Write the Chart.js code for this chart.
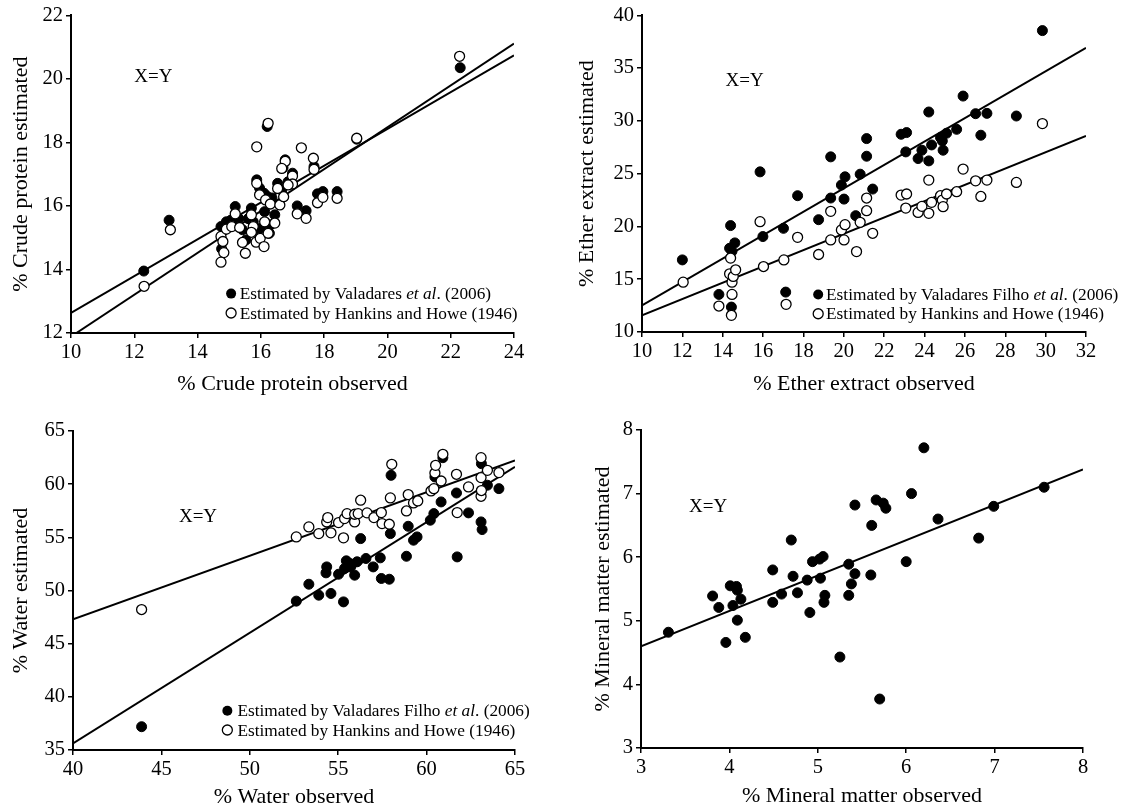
<!DOCTYPE html>
<html><head><meta charset="utf-8">
<script src="https://cdn.jsdelivr.net/npm/chart.js@4.4.1/dist/chart.umd.min.js"></script>
<style>
html,body{margin:0;padding:0;background:#fff;}
#wrap{position:relative;width:1127px;height:810px;overflow:hidden;background:#fff;}
.p{position:absolute;}
</style></head><body>
<div id="wrap">
<div class="p" style="left:0;top:0;width:563px;height:405px"><canvas id="c1"></canvas></div>
<div class="p" style="left:563px;top:0;width:564px;height:405px"><canvas id="c2"></canvas></div>
<div class="p" style="left:0;top:405px;width:563px;height:405px"><canvas id="c3"></canvas></div>
<div class="p" style="left:563px;top:405px;width:564px;height:405px"><canvas id="c4"></canvas></div>
</div>
<script>
// ---------- Panel 1: crude protein ----------
const p1ValX = [12.3,13.1,22.3,16.2,14.74,14.76,14.91,15.05,15.19,15.3,15.42,15.53,15.7,15.76,15.87,15.96,16.1,16.12,16.2,16.27,16.3,16.44,16.53,16.66,16.77,16.86,17.0,17.15,17.43,17.68,17.79,17.96,18.41,19.03,15.87,16.0,16.35,16.7,15.6];
const p1ValY = [13.95,15.55,20.35,18.5,15.35,14.65,15.5,15.55,15.98,15.6,15.25,14.93,15.93,15.5,16.82,16.56,16.4,15.82,16.3,15.14,15.4,15.72,16.71,16.5,17.45,16.76,17.03,16.0,15.85,17.24,16.38,16.45,16.45,18.1,15.2,15.3,16.25,17.2,15.6];
const p1HhX = [12.31,13.14,22.28,16.23,15.87,17.28,17.66,17.68,16.77,16.66,17.0,17.0,16.86,16.53,15.87,15.96,16.15,16.3,16.6,16.72,17.79,17.96,18.41,17.15,17.43,19.03,15.19,15.7,15.76,14.74,14.8,14.83,14.74,14.91,15.08,15.33,15.42,15.51,15.7,15.85,15.98,16.1,16.12,16.23,16.44];
const p1HhY = [13.47,15.25,20.71,18.6,17.86,17.83,17.5,17.15,17.4,17.18,16.94,16.69,16.66,16.55,16.71,16.35,16.19,16.06,16.03,16.29,16.1,16.27,16.24,15.75,15.61,18.13,15.75,15.72,15.35,15.04,14.88,14.53,14.23,15.27,15.35,15.32,14.85,14.51,15.17,14.86,14.98,14.72,15.5,15.14,15.46];
const p1ValLineX = [10, 24], p1ValLineY = [12.63, 20.74];
const p1HhLineX = [10.17, 24], p1HhLineY = [12.0, 21.11];

// ---------- Panel 2: ether extract ----------
const p2ValX = [12.0,13.81,14.34,14.39,14.46,14.6,14.43,15.85,15.99,17.01,17.12,17.71,18.75,19.35,19.35,19.88,20.06,20.01,20.59,20.81,21.13,21.13,21.43,22.84,23.11,23.07,23.68,23.87,24.21,24.21,24.35,24.79,24.88,24.92,25.09,25.59,25.91,26.53,26.79,27.09,28.55,29.84];
const p2ValY = [16.83,13.56,17.93,20.08,17.65,18.44,12.36,25.17,19.04,19.82,13.78,22.91,20.64,26.59,22.69,23.92,24.7,22.59,21.02,24.95,28.32,26.65,23.54,28.73,28.89,27.06,26.43,27.22,30.84,26.21,27.72,28.42,28.1,27.22,28.83,29.2,32.35,30.68,28.64,30.71,30.46,38.55];
const p2HhX = [12.04,13.81,14.34,14.39,14.46,14.46,14.43,14.52,14.64,15.85,16.02,17.03,17.14,17.71,18.75,19.35,19.35,19.88,20.06,20.01,20.63,20.81,21.13,21.13,21.43,22.84,23.11,23.07,23.68,23.87,24.21,24.21,24.35,24.79,24.88,24.92,25.09,25.59,25.91,26.53,26.79,27.09,28.55,29.84];
const p2HhY = [14.72,12.46,15.51,17.0,14.72,13.56,11.58,15.26,15.89,20.45,16.2,16.83,12.62,18.97,17.34,21.43,18.72,19.67,20.17,18.72,17.62,20.39,22.69,21.49,19.35,22.97,23.07,21.74,21.33,21.9,24.39,21.24,22.28,22.91,22.5,21.87,23.07,23.29,25.43,24.32,22.84,24.39,24.17,29.74];
const p2ValLineX = [10, 32], p2ValLineY = [12.52, 36.92];
const p2HhLineX = [10, 32], p2HhLineY = [11.58, 28.57];

// ---------- Panel 3: water ----------
const p3ValX = [43.88,52.63,53.34,53.9,54.35,54.31,54.59,55.02,55.3,55.36,55.46,55.66,55.93,56.07,56.27,56.57,56.98,57.38,57.44,57.89,57.95,57.99,58.86,58.96,59.26,59.46,60.21,60.41,60.47,60.82,60.92,61.69,61.73,62.37,63.08,63.14,63.1,63.44,64.09,55.7];
const p3ValY = [37.19,49.0,50.59,49.56,52.22,51.66,49.72,51.53,48.93,52.07,52.79,52.54,51.44,52.7,54.88,53.01,52.22,53.07,51.13,51.06,55.35,60.83,53.22,56.04,54.73,55.04,56.61,57.23,60.68,58.33,62.49,59.17,53.16,57.3,56.45,55.73,61.93,59.9,59.58,52.2];
const p3HhX = [43.88,52.63,53.34,53.9,54.35,54.41,54.59,55.02,55.3,55.36,55.5,55.93,55.93,56.13,56.27,56.63,57.02,57.44,57.48,57.89,57.95,58.03,58.86,58.96,59.26,59.5,60.25,60.41,60.47,60.51,60.82,60.92,61.69,61.73,62.37,63.08,63.08,63.08,63.1,63.44,64.09];
const p3HhY = [48.21,55.04,55.98,55.35,56.45,56.86,55.42,56.39,54.95,56.76,57.23,56.45,57.17,57.23,58.49,57.3,56.86,57.33,56.29,56.23,58.71,61.87,57.48,59.02,58.24,58.42,59.36,59.58,61.05,61.77,60.3,62.81,60.93,57.33,59.74,62.49,60.62,58.86,59.4,61.3,61.09];
const p3ValLineX = [40, 65], p3ValLineY = [35.62, 61.62];
const p3HhLineX = [40, 65], p3HhLineY = [47.3, 62.24];

// ---------- Panel 4: mineral matter ----------
const p4X = [3.31,3.81,3.88,3.96,4.01,4.04,4.08,4.09,4.09,4.13,4.18,4.49,4.49,4.59,4.7,4.72,4.77,4.88,4.91,4.94,5.02,5.03,5.06,5.07,5.08,5.25,5.35,5.35,5.38,5.42,5.42,5.6,5.61,5.66,5.7,5.74,5.77,6.0,6.06,6.2,6.36,6.82,6.99,7.56];
const p4Y = [4.82,5.39,5.21,4.66,5.55,5.24,5.54,5.48,5.01,5.34,4.74,5.29,5.8,5.42,6.27,5.7,5.44,5.64,5.13,5.93,5.97,5.67,6.01,5.29,5.4,4.43,5.89,5.4,5.58,5.74,6.82,5.72,6.5,6.9,3.77,6.85,6.77,5.93,7.0,7.72,6.6,6.3,6.8,7.1];
const p4LineX = [3, 8], p4LineY = [4.6, 7.38];

// ---------- Labels ----------
const legendVal1 = [['Estimated by Valadares ', false], ['et al', true], ['. (2006)', false]];
const legendVal2 = [['Estimated by Valadares Filho ', false], ['et al', true], ['. (2006)', false]];
const legendHh = [['Estimated by Hankins and Howe (1946)', false]];

const FONT = 'Liberation Serif';
const TICK_SIZE = 20.5, TITLE_SIZE = 22, LEGEND_SIZE = 17.3, XY_SIZE = 19;
Chart.defaults.font.family = FONT;
Chart.defaults.color = '#000';

function pts(xs, ys) { return xs.map((x, i) => ({x: x, y: ys[i]})); }

const overlay = {
  id: 'overlay',
  afterDatasetsDraw(chart, args, o) {
    const ctx = chart.ctx, sx = chart.scales.x, sy = chart.scales.y;
    ctx.save();
    ctx.fillStyle = '#000';
    ctx.textBaseline = 'middle';
    if (o.xy) {
      ctx.font = XY_SIZE + 'px "' + FONT + '"';
      ctx.textAlign = 'center';
      ctx.fillText('X=Y', sx.getPixelForValue(o.xy[0]), sy.getPixelForValue(o.xy[1]));
    }
    if (o.legend) {
      const L = o.legend;
      L.rows.forEach((row, i) => {
        const py = sy.getPixelForValue(L.y[i]);
        const mx = sx.getPixelForValue(L.mx);
        ctx.beginPath();
        ctx.arc(mx, py, 5, 0, Math.PI * 2);
        if (row.filled) { ctx.fillStyle = '#000'; ctx.fill(); }
        else { ctx.fillStyle = '#fff'; ctx.fill(); ctx.lineWidth = 1.3; ctx.strokeStyle = '#000'; ctx.stroke(); }
        ctx.fillStyle = '#000';
        ctx.textAlign = 'left';
        let tx = sx.getPixelForValue(L.tx);
        row.parts.forEach(([t, it]) => {
          ctx.font = (it ? 'italic ' : '') + LEGEND_SIZE + 'px "' + FONT + '"';
          ctx.fillText(t, tx, py + 1);
          tx += ctx.measureText(t).width;
        });
      });
    }
    ctx.restore();
  }
};

function axis(min, max, step, title, isX, fixedSize, titlePad) {
  return {
    type: 'linear', min: min, max: max,
    afterFit: (s) => { if (isX) s.height = fixedSize; else s.width = fixedSize; },
    ticks: { stepSize: step, autoSkip: false, maxRotation: 0, padding: isX ? 2 : 3,
             font: { size: TICK_SIZE, family: FONT }, color: '#000' },
    grid: { display: true, drawOnChartArea: false, drawTicks: true, tickLength: 5, color: '#000', lineWidth: 1.5 },
    border: { display: true, color: '#000', width: 2 },
    title: { display: true, text: title, color: '#000', font: { size: TITLE_SIZE, family: FONT },
             padding: isX ? { top: 0, bottom: titlePad } : { top: titlePad, bottom: 0 } }
  };
}

function scatterSet(data, filled, order) {
  return { data: data, showLine: false, pointRadius: 5, pointHoverRadius: 5,
           pointBackgroundColor: filled ? '#000' : '#fff', pointBorderColor: '#000',
           pointBorderWidth: filled ? 1 : 1.3, order: order };
}
function lineSet(data) {
  return { data: data, showLine: true, pointRadius: 0, borderColor: '#000', borderWidth: 2,
           fill: false, order: 5 };
}

function makeChart(id, datasets, xa, ya, pad, ov) {
  new Chart(document.getElementById(id), {
    type: 'scatter',
    data: { datasets: datasets },
    options: {
      responsive: true, maintainAspectRatio: false, animation: false, devicePixelRatio: 1,
      events: [],
      layout: { padding: pad },
      plugins: { legend: { display: false }, tooltip: { enabled: false }, overlay: ov },
      scales: { x: xa, y: ya }
    },
    plugins: [overlay]
  });
}

// Panel 1
makeChart('c1', [
  scatterSet(pts(p1HhX, p1HhY), false, 0),
  scatterSet(pts(p1ValX, p1ValY), true, 1),
  lineSet(pts(p1ValLineX, p1ValLineY)),
  lineSet(pts(p1HhLineX, p1HhLineY))
], axis(10, 24, 2, '% Crude protein observed', true, 72, 8),
   axis(12, 22, 2, '% Crude protein estimated', false, 71, 8),
   { left: 0, top: 15, right: 49, bottom: 0 },
   { xy: [12.6, 20.05], legend: { mx: 15.06, tx: 15.33, y: [13.24, 12.63],
     rows: [{ filled: true, parts: legendVal1 }, { filled: false, parts: legendHh }] } });

// Panel 2
makeChart('c2', [
  scatterSet(pts(p2HhX, p2HhY), false, 0),
  scatterSet(pts(p2ValX, p2ValY), true, 1),
  lineSet(pts(p2ValLineX, p2ValLineY)),
  lineSet(pts(p2HhLineX, p2HhLineY))
], axis(10, 32, 2, '% Ether extract observed', true, 73, 8),
   axis(10, 40, 5, '% Ether extract estimated', false, 79, 11),
   { left: 0, top: 14, right: 41, bottom: 0 },
   { xy: [15.08, 33.77], legend: { mx: 18.73, tx: 19.12, y: [13.56, 11.73],
     rows: [{ filled: true, parts: legendVal2 }, { filled: false, parts: legendHh }] } });

// Panel 3
makeChart('c3', [
  scatterSet(pts(p3HhX, p3HhY), false, 0),
  scatterSet(pts(p3ValX, p3ValY), true, 1),
  lineSet(pts(p3ValLineX, p3ValLineY)),
  lineSet(pts(p3HhLineX, p3HhLineY))
], axis(40, 65, 5, '% Water observed', true, 60, 0),
   axis(35, 65, 5, '% Water estimated', false, 73, 8),
   { left: 0, top: 26, right: 48, bottom: 0 },
   { xy: [47.07, 56.92], legend: { mx: 48.73, tx: 49.3, y: [38.69, 36.88],
     rows: [{ filled: true, parts: legendVal2 }, { filled: false, parts: legendHh }] } });

// Panel 4
makeChart('c4', [
  scatterSet(pts(p4X, p4Y), true, 1),
  lineSet(pts(p4LineX, p4LineY))
], axis(3, 8, 1, '% Mineral matter observed', true, 62, 1),
   axis(3, 8, 1, '% Mineral matter estimated', false, 78, 27),
   { left: 0, top: 25, right: 44, bottom: 0 },
   { xy: [3.76, 6.79] });
</script>
</body></html>
